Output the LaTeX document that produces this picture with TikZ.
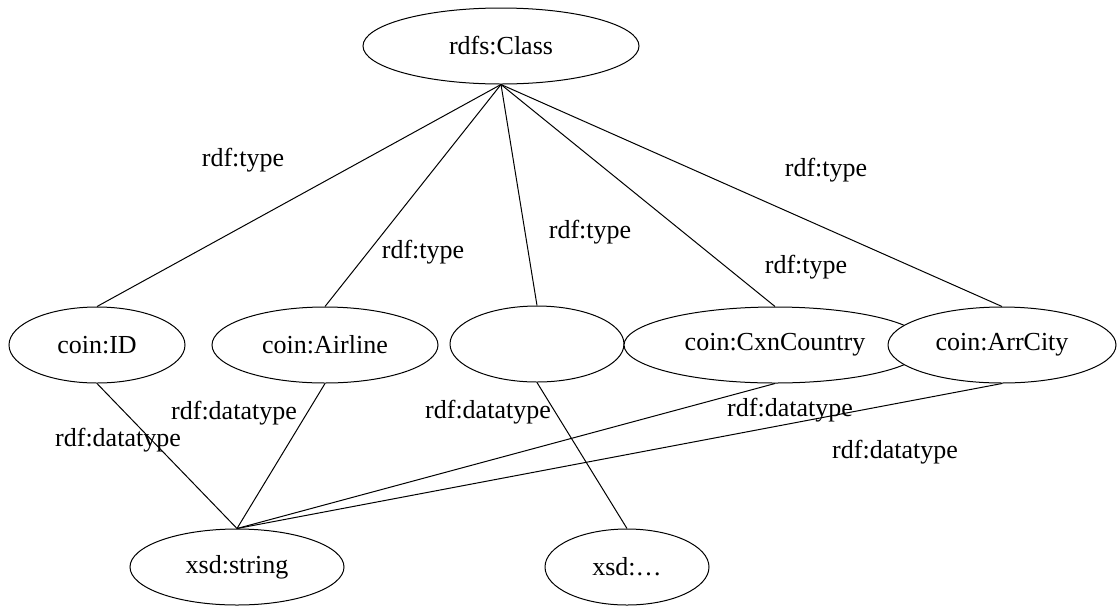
\documentclass[tikz,border=0pt]{standalone}
\usepackage{fontspec}
\setmainfont{Liberation Serif}
\usetikzlibrary{shapes.geometric}

\begin{document}
\begin{tikzpicture}[
  x=0.5pt, y=-0.5pt,
  cls/.style={draw, ellipse, fill=white, inner sep=0pt, minimum height=38pt, line width=0.5pt, font=\fontsize{13}{15}\selectfont},
  lbl/.style={inner sep=1pt, font=\fontsize{13}{15}\selectfont},
  edge/.style={line width=0.5pt}
]
\useasboundingbox (0,0) rectangle (1118,606);

\node[cls, minimum width=138pt] (rdfsclass) at (501,46) {rdfs:Class};

\node[cls, minimum width=88pt] (coinid) at (97,345) {coin:ID};
\node[cls, minimum width=113pt] (airline) at (325,345) {coin:Airline};
\node[cls, minimum width=87pt] (blank) at (537,344) {};
\node[cls, minimum width=151pt] (cxncountry) at (775,345) {coin:CxnCountry};
\node[cls, minimum width=114pt] (arrcity) at (1002,345) {coin:ArrCity};

\node[cls, minimum width=107pt] (xsdstring) at (237,567) {xsd:string};
\node[cls, minimum width=82pt] (xsdother) at (627,567) {xsd:\ldots};

\draw[edge] (rdfsclass.south) -- (coinid.north);
\draw[edge] (rdfsclass.south) -- (airline.north);
\draw[edge] (rdfsclass.south) -- (blank.north);
\draw[edge] (rdfsclass.south) -- (cxncountry.north);
\draw[edge] (rdfsclass.south) -- (arrcity.north);

\draw[edge] (coinid.south) -- (xsdstring.north);
\draw[edge] (airline.south) -- (xsdstring.north);
\draw[edge] (blank.south) -- (xsdother.north);
\draw[edge] (cxncountry.south) -- (xsdstring.north);
\draw[edge] (arrcity.south) -- (xsdstring.north);

% edge labels
\node[lbl] (t1) at (243,160) {rdf:type};
\node[lbl] (t2) at (423,252) {rdf:type};
\node[lbl] (t3) at (590,232) {rdf:type};
\node[lbl] (t4) at (806,267) {rdf:type};
\node[lbl] (t5) at (826,170) {rdf:type};

\node[lbl] (d1) at (118,440) {rdf:datatype};
\node[lbl] (d2) at (234,413) {rdf:datatype};
\node[lbl] (d3) at (488,412) {rdf:datatype};
\node[lbl] (d4) at (790,410) {rdf:datatype};
\node[lbl] (d5) at (895,452) {rdf:datatype};
\end{tikzpicture}
\end{document}
